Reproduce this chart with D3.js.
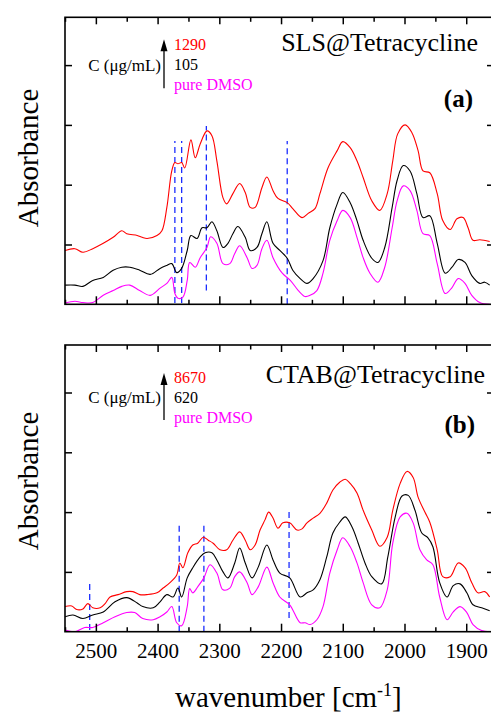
<!DOCTYPE html>
<html>
<head>
<meta charset="utf-8">
<script src="https://cdn.jsdelivr.net/npm/d3@7"></script>
<style>
  html, body { margin: 0; padding: 0; background: #fff; }
  svg { display: block; }
  svg text { font-family: 'Liberation Serif', 'Times New Roman', serif !important; }
</style>
</head>
<body>
<svg id="chart"></svg>
<script>
// wavenumber [cm-1], absorbance (a.u., offset curves)
const slsHigh = [[2550,0.90],[2534,0.93],[2521,0.87],[2505,0.93],[2488,1.02],[2472,1.12],[2458,1.23],[2450,1.18],[2433,1.15],[2425,1.12],[2417,1.10],[2401,1.15],[2393,1.23],[2385,1.62],[2377,2.23],[2372,2.37],[2367,2.35],[2361,2.37],[2356,2.28],[2346,2.75],[2339,2.45],[2331,2.68],[2320,2.90],[2312,2.82],[2304,2.40],[2294,1.78],[2288,1.68],[2278,1.85],[2267,2.02],[2258,1.87],[2250,1.62],[2242,1.62],[2231,1.95],[2223,2.13],[2213,1.90],[2205,1.77],[2190,1.70],[2181,1.60],[2166,1.45],[2156,1.52],[2145,1.60],[2137,1.85],[2124,2.28],[2109,2.57],[2100,2.72],[2088,2.62],[2077,2.40],[2067,2.12],[2053,1.73],[2040,1.57],[2028,1.85],[2019,2.40],[2011,2.85],[1999,3.00],[1988,2.87],[1978,2.57],[1970,2.23],[1959,2.20],[1947,1.85],[1938,1.40],[1926,1.25],[1915,1.43],[1905,1.45],[1897,1.28],[1889,1.07],[1878,1.08],[1862,1.05]]
const slsMid = [[2550,0.32],[2534,0.32],[2521,0.30],[2505,0.40],[2488,0.45],[2472,0.57],[2458,0.62],[2445,0.62],[2429,0.57],[2412,0.50],[2396,0.60],[2385,0.65],[2377,0.68],[2369,0.53],[2361,0.60],[2352,0.90],[2346,1.15],[2336,1.10],[2328,1.28],[2320,1.28],[2312,1.38],[2304,1.23],[2294,0.95],[2286,1.02],[2278,1.18],[2270,1.30],[2258,1.12],[2250,0.90],[2239,0.95],[2231,1.18],[2223,1.38],[2213,1.02],[2202,0.90],[2190,0.77],[2181,0.57],[2169,0.43],[2158,0.35],[2148,0.43],[2132,0.73],[2121,1.28],[2109,1.68],[2100,1.87],[2088,1.70],[2077,1.40],[2067,1.07],[2053,0.77],[2043,0.70],[2032,0.95],[2020,1.62],[2012,2.07],[2002,2.32],[1991,2.23],[1980,1.85],[1970,1.45],[1959,1.48],[1947,1.02],[1934,0.52],[1923,0.62],[1913,0.75],[1902,0.70],[1891,0.48],[1878,0.35],[1870,0.37],[1862,0.32]]
const slsDmso = [[2550,0.02],[2534,0.05],[2521,0.03],[2505,0.03],[2488,0.15],[2472,0.23],[2458,0.30],[2445,0.32],[2429,0.23],[2412,0.15],[2396,0.27],[2385,0.35],[2377,0.45],[2372,0.18],[2367,0.10],[2359,0.12],[2352,0.40],[2348,0.70],[2339,0.62],[2331,0.78],[2320,0.95],[2314,1.13],[2304,1.02],[2294,0.68],[2283,0.68],[2275,0.85],[2267,0.98],[2255,0.78],[2247,0.60],[2239,0.65],[2231,0.93],[2223,1.07],[2213,0.78],[2198,0.52],[2185,0.40],[2172,0.23],[2161,0.13],[2153,0.15],[2142,0.23],[2132,0.52],[2121,1.07],[2109,1.40],[2100,1.57],[2088,1.45],[2077,1.12],[2067,0.78],[2056,0.52],[2043,0.37],[2032,0.62],[2020,1.28],[2012,1.73],[2002,1.98],[1991,1.90],[1980,1.57],[1970,1.18],[1959,1.15],[1947,0.68],[1934,0.18],[1923,0.28],[1913,0.43],[1902,0.35],[1891,0.15],[1878,0.03],[1862,0.00]]

const ctabHigh = [[2550,0.42],[2539,0.43],[2531,0.37],[2521,0.38],[2513,0.47],[2505,0.40],[2493,0.40],[2485,0.47],[2477,0.58],[2464,0.62],[2450,0.67],[2440,0.67],[2429,0.62],[2417,0.62],[2401,0.65],[2391,0.73],[2380,0.82],[2369,0.95],[2364,1.15],[2359,1.07],[2351,1.32],[2343,1.45],[2335,1.48],[2326,1.58],[2318,1.53],[2310,1.48],[2299,1.37],[2288,1.37],[2278,1.53],[2267,1.67],[2258,1.53],[2250,1.37],[2242,1.45],[2234,1.70],[2226,1.87],[2220,2.00],[2213,1.90],[2205,1.73],[2197,1.82],[2186,1.82],[2174,1.70],[2166,1.72],[2158,1.82],[2148,1.90],[2137,1.98],[2126,2.15],[2116,2.37],[2105,2.50],[2096,2.55],[2088,2.48],[2077,2.32],[2067,2.03],[2053,1.70],[2040,1.43],[2028,1.58],[2019,2.03],[2007,2.48],[1996,2.68],[1986,2.58],[1978,2.25],[1967,2.00],[1959,1.83],[1947,1.37],[1938,0.92],[1926,0.92],[1913,1.15],[1902,1.07],[1891,0.82],[1881,0.65],[1870,0.67],[1862,0.58]]
const ctabMid = [[2550,0.25],[2537,0.28],[2521,0.22],[2505,0.28],[2488,0.33],[2469,0.50],[2450,0.57],[2433,0.48],[2424,0.42],[2407,0.40],[2396,0.50],[2385,0.62],[2375,0.58],[2367,0.73],[2361,0.58],[2352,0.90],[2343,1.07],[2331,1.25],[2323,1.32],[2312,1.32],[2304,1.20],[2294,1.00],[2286,0.90],[2275,1.15],[2267,1.40],[2258,1.15],[2247,0.90],[2237,1.08],[2223,1.45],[2213,1.20],[2202,0.98],[2186,0.90],[2169,0.58],[2158,0.65],[2148,0.70],[2137,0.87],[2126,1.25],[2116,1.65],[2105,1.83],[2096,1.92],[2085,1.75],[2075,1.48],[2064,1.15],[2053,0.92],[2037,0.80],[2027,1.25],[2015,1.92],[2004,2.27],[1994,2.28],[1983,2.03],[1972,1.65],[1962,1.57],[1954,1.42],[1943,0.82],[1931,0.58],[1921,0.77],[1910,0.80],[1899,0.65],[1889,0.45],[1875,0.40],[1862,0.35]]
const ctabDmso = [[2550,0.03],[2534,0.00],[2518,0.07],[2505,0.07],[2488,0.15],[2469,0.25],[2450,0.32],[2437,0.32],[2424,0.22],[2407,0.20],[2396,0.25],[2385,0.33],[2377,0.42],[2369,0.15],[2361,0.10],[2352,0.42],[2348,0.72],[2343,0.65],[2335,0.75],[2325,0.90],[2315,1.12],[2304,0.98],[2294,0.70],[2283,0.73],[2275,0.92],[2267,1.00],[2255,0.82],[2247,0.62],[2237,0.75],[2223,1.08],[2213,0.82],[2202,0.58],[2186,0.45],[2169,0.15],[2161,0.15],[2153,0.12],[2142,0.20],[2132,0.42],[2121,0.98],[2109,1.37],[2100,1.57],[2088,1.42],[2077,1.15],[2067,0.82],[2053,0.45],[2040,0.40],[2028,0.70],[2019,1.48],[2007,1.92],[1996,1.98],[1986,1.82],[1975,1.37],[1964,1.20],[1954,1.12],[1943,0.58],[1931,0.20],[1921,0.33],[1910,0.42],[1899,0.32],[1889,0.12],[1875,0.02],[1862,0.00]]

// marker lines: [wavenumber, from, to]
const slsMarks = [[2372,0.02,2.73],[2361,0.02,2.73],[2321,0.23,2.98],[2190,0.00,2.73]]
const ctabMarks = [[2510,0.03,0.82],[2365,0.00,1.78],[2325,0.00,1.78],[2187,0.23,2.00]]

const slsLegend = ['1290', '105', 'pure DMSO']
const ctabLegend = ['8670', '620', 'pure DMSO']

const majorTicks = [2500, 2400, 2300, 2200, 2100, 2000, 1900]
const minorTicks = [2550, 2450, 2350, 2250, 2150, 2050, 1950]
const yTicks = [1, 2, 3, 4]

const colors = ['#ff0000', '#000000', '#ff00ff']

const W = 491
const H = 713
const svg = d3.select('#chart').attr('width', W).attr('height', H)

const x = d3.scaleLinear().domain([2550, 1855]).range([65, 494])

const panels = [
  { top: 17.3, bottom: 304.3, series: [slsHigh, slsMid, slsDmso], marks: slsMarks, legend: slsLegend,
    title: 'SLS@Tetracycline', tag: '(a)', titleX: 478, titleY: 33.4, tagX: 473, tagY: 90,
    legY: 33, arrow: [71, 22], labels: false, absY: 158 },
  { top: 345, bottom: 631.7, series: [ctabHigh, ctabMid, ctabDmso], marks: ctabMarks, legend: ctabLegend,
    title: 'CTAB@Tetracycline', tag: '(b)', titleX: 485, titleY: 38, tagX: 475, tagY: 88,
    legY: 37.7, arrow: [75, 28], labels: true, absY: 481 }
]

panels.forEach((p) => {
  const y = d3.scaleLinear().domain([0, (p.bottom - p.top) / 59.8]).range([p.bottom, p.top])
  const g = svg.append('g')

  const clipId = `clip${Math.round(p.top)}`
  g.append('clipPath').attr('id', clipId)
    .append('rect').attr('x', 65).attr('y', p.top).attr('width', 429).attr('height', p.bottom - p.top)

  // 虛線標記
  g.append('g').attr('clip-path', `url(#${clipId})`)
    .selectAll('line')
    .data(p.marks)
    .enter()
    .append('line')
    .attr('x1', d => x(d[0])).attr('x2', d => x(d[0]))
    .attr('y1', d => y(d[1])).attr('y2', d => y(d[2]))
    .attr('stroke', '#1a2cff')
    .attr('stroke-width', 1.3)
    .attr('stroke-dasharray', '6,4')

  const line = d3.line()
    .x(d => x(d[0]))
    .y(d => y(d[1]))
    .curve(d3.curveCatmullRom.alpha(0.5))

  g.append('g').attr('clip-path', `url(#${clipId})`)
    .selectAll('path')
    .data(p.series)
    .enter()
    .append('path')
    .attr('d', line)
    .attr('fill', 'none')
    .attr('stroke', (d, i) => colors[i])
    .attr('stroke-width', 1.1)

  // axes, ticks inward
  const axes = [
    [d3.axisBottom(x).tickValues(majorTicks).tickSizeInner(-8).tickFormat(d3.format('d')), p.bottom],
    [d3.axisBottom(x).tickValues(minorTicks).tickSizeInner(-4.5).tickFormat(''), p.bottom],
    [d3.axisTop(x).tickValues(majorTicks).tickSizeInner(-7).tickFormat(''), p.top],
    [d3.axisTop(x).tickValues(minorTicks).tickSizeInner(-4.5).tickFormat(''), p.top]
  ]
  axes.forEach(([ax, ty], i) => {
    ax.tickSizeOuter(0).tickPadding(11)
    if (i === 0 && !p.labels) ax.tickFormat('')
    const a = g.append('g').attr('transform', `translate(0,${ty})`).call(ax)
    a.attr('font-family', null).attr('font-size', null)
    a.select('.domain').remove()
    a.selectAll('line').attr('stroke-width', 1.5)
    a.selectAll('text').attr('font-size', 21).attr('fill', '#000')
  })
  const yl = g.append('g').attr('transform', 'translate(65,0)')
    .call(d3.axisLeft(y).tickValues(yTicks).tickSizeInner(-7).tickSizeOuter(0).tickFormat(''))
  yl.select('.domain').remove()
  yl.selectAll('line').attr('stroke-width', 1.5)
  const yr = g.append('g').attr('transform', 'translate(494,0)')
    .call(d3.axisRight(y).tickValues(yTicks).tickSizeInner(-7).tickSizeOuter(0).tickFormat(''))
  yr.select('.domain').remove()
  yr.selectAll('line').attr('stroke-width', 1.5)

  g.append('rect')
    .attr('x', 65).attr('y', p.top)
    .attr('width', 429).attr('height', p.bottom - p.top)
    .attr('fill', 'none').attr('stroke', '#000').attr('stroke-width', 1.6)

  g.append('text')
    .attr('x', p.titleX).attr('y', p.top + p.titleY)
    .attr('text-anchor', 'end').attr('font-size', 26)
    .text(p.title)
  g.append('text')
    .attr('x', p.tagX).attr('y', p.top + p.tagY)
    .attr('text-anchor', 'end').attr('font-size', 25).attr('font-weight', 'bold')
    .text(p.tag)

  // legend arrow
  const ay0 = p.top + p.arrow[0]
  const ay1 = p.top + p.arrow[1]
  g.append('line')
    .attr('x1', 164).attr('x2', 164)
    .attr('y1', ay0).attr('y2', ay1 + 10)
    .attr('stroke', '#000').attr('stroke-width', 1.3)
  g.append('path')
    .attr('d', `M164,${ay1} L167.5,${ay1 + 12} L160.5,${ay1 + 12} Z`)
    .attr('fill', '#000')
  g.append('text')
    .attr('x', 161).attr('y', p.top + p.legY + 20.5)
    .attr('text-anchor', 'end').attr('font-size', 17)
    .text('C (μg/mL)')
  g.selectAll('.leg')
    .data(p.legend)
    .enter()
    .append('text')
    .attr('x', 174)
    .attr('y', (d, i) => p.top + p.legY + i * 20)
    .attr('font-size', 16)
    .attr('fill', (d, i) => colors[i])
    .text(d => d)

  svg.append('text')
    .attr('transform', `translate(38,${p.absY}) rotate(-90)`)
    .attr('text-anchor', 'middle').attr('font-size', 29)
    .text('Absorbance')
})

const xt = svg.append('text').attr('x', 175).attr('y', 707).attr('font-size', 29)
xt.append('tspan').text('wavenumber [cm')
xt.append('tspan').attr('font-size', 18).attr('dy', -11).text('-1')
xt.append('tspan').attr('dy', 11).text(']')
</script>
</body>
</html>
